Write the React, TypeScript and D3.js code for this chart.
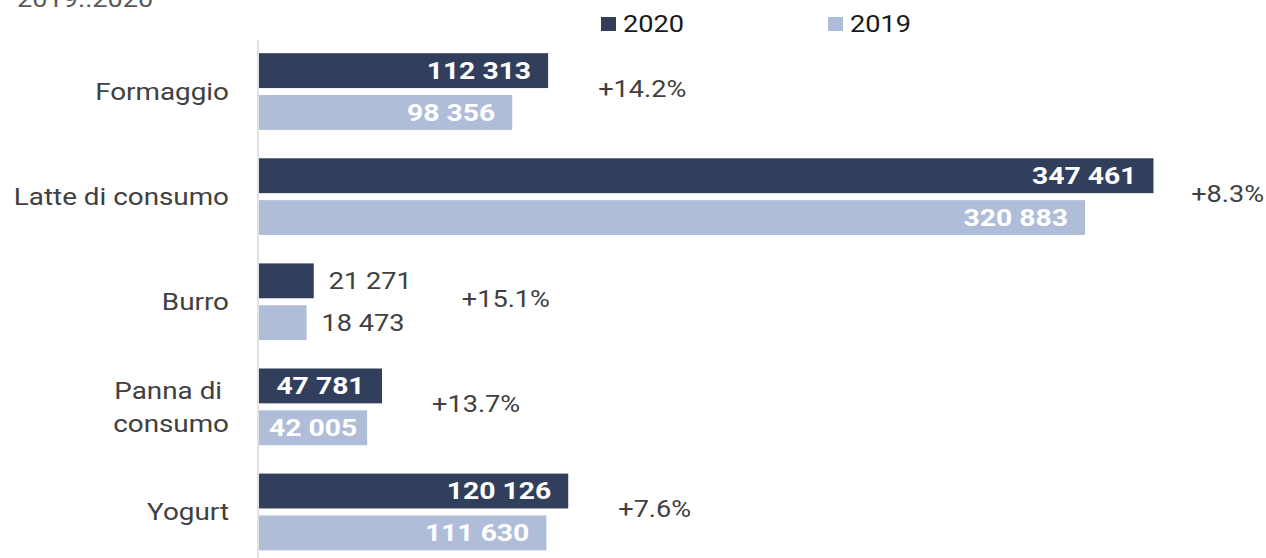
import React from 'react';
import * as d3 from 'd3';

const categories = ['Formaggio', 'Latte di consumo', 'Burro', 'Panna di \nconsumo', 'Yogurt'];
const values2020 = [112313, 347461, 21271, 47781, 120126];
const values2019 = [98356, 320883, 18473, 42005, 111630];
const growth = ['+14.2%', '+8.3%', '+15.1%', '+13.7%', '+7.6%'];
const seriesNames = ['2020', '2019'];
const subtitle = '2019..2020';

const W = 1266;
const H = 558;
const DARK = '#323f5c';
const LIGHT = '#afbdd8';
const GREY = '#404040';
const FONT = 'Roboto, sans-serif';
const STRETCH = 1.18;
const FS = 23;

const fmt = d3.formatLocale({decimal: ',', thousands: ' ', grouping: [3], currency: ['', '']}).format(',d');

// rough width of a digit string in Roboto, stretched
const textW = (s: string, size: number) =>
  s.split('').reduce((a, c) => a + (c === ' ' ? 0.25 : c === '.' ? 0.264 : c === '%' ? 0.733 : 0.562), 0) * size * STRETCH;

const SText = ({x, y, anchor = 'start', size = FS, weight = 400, fill = GREY, children}: any) => (
  <g transform={`translate(${x},${y}) scale(${STRETCH},1)`}>
    <text x={0} y={0} textAnchor={anchor} dy="0.35em" fontSize={size} fontWeight={weight}
      fill={fill} fontFamily={FONT} style={{whiteSpace: 'pre'}}>{children}</text>
  </g>
);

const App = () => {
  const x0 = 259;
  const x = d3.scaleLinear().domain([0, 350000]).range([x0, 1160]);
  const y = d3.scaleBand().domain(categories).range([39, 564.5]).paddingInner(0.27).paddingOuter(0.135);
  const inner = d3.scaleBand().domain(seriesNames).range([0, y.bandwidth()]).paddingInner(0.167);

  const series = [
    {name: seriesNames[0], values: values2020, color: DARK},
    {name: seriesNames[1], values: values2019, color: LIGHT},
  ];

  return (
    <svg width={W} height={H} style={{position: 'absolute', left: 0, top: 0, background: '#fff'}}>
      <SText x={17} y={-1} fill="#595959">{subtitle}</SText>

      {/* legend */}
      {series.map((s, i) => {
        const lx = [601, 828][i];
        return (
          <g key={s.name}>
            <rect x={lx} y={17} width={15} height={14} fill={s.color} />
            <SText x={lx + 22} y={24} fill="#1a1a1a">{s.name}</SText>
          </g>
        );
      })}

      <line x1={x0 - 1} x2={x0 - 1} y1={40} y2={H} stroke="#d9d9d9" strokeWidth={1.5} />

      {categories.map((c, ci) => {
        const gy = y(c)!;
        const lines = c.split('\n');
        let rightMost = 0;
        const bars = series.map(s => {
          const v = s.values[ci];
          const by = gy + inner(s.name)!;
          const bh = inner.bandwidth();
          const bw = x(v) - x0;
          const label = fmt(v);
          const lw = textW(label, 24);
          let lbl;
          if (bw < lw) {
            const lx = x(v) + 15;
            rightMost = Math.max(rightMost, lx + textW(label, FS));
            lbl = <SText x={lx} y={by + bh / 2}>{label}</SText>;
          } else {
            rightMost = Math.max(rightMost, x(v));
            const centered = bw < 140;
            lbl = (
              <SText x={centered ? x0 + bw / 2 : x(v) - 17} y={by + bh / 2} anchor={centered ? 'middle' : 'end'}
                size={24} weight={700} fill="#fff">{label}</SText>
            );
          }
          return (
            <g key={s.name}>
              <rect x={x0} y={by} width={bw} height={bh} fill={s.color} />
              {lbl}
            </g>
          );
        });
        const cy = gy + y.bandwidth() / 2;
        const gx = Math.min(rightMost + 50, W - textW(growth[ci], FS) - 2);
        return (
          <g key={c}>
            {bars}
            {lines.map((l, li) => (
              <SText key={li} x={229} y={cy + (li - (lines.length - 1) / 2) * 33} anchor="end" size={23.6}>{l}</SText>
            ))}
            <SText x={gx} y={cy - 3}>{growth[ci]}</SText>
          </g>
        );
      })}
    </svg>
  );
};

export default App;
